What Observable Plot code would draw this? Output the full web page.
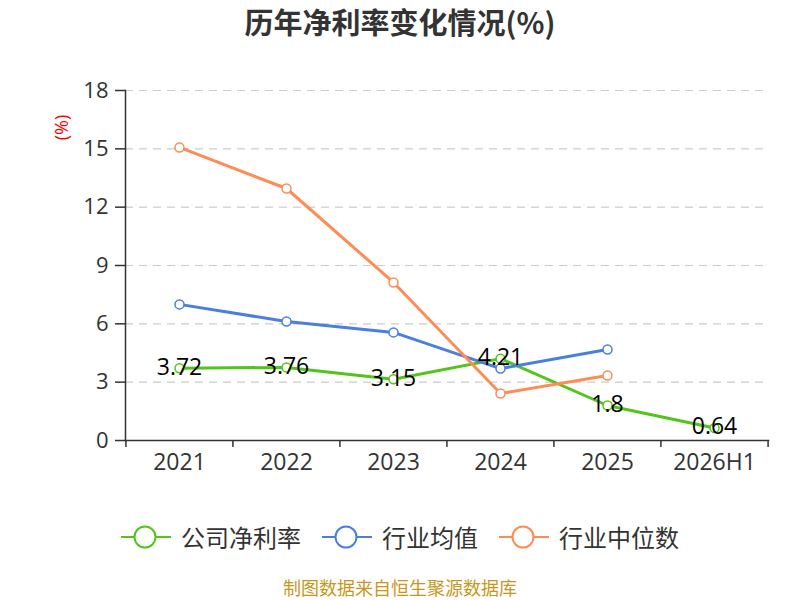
<!DOCTYPE html>
<html>
<head>
<meta charset="utf-8">
<script src="https://cdn.jsdelivr.net/npm/d3@7"></script>
<script src="https://cdn.jsdelivr.net/npm/@observablehq/plot@0.6"></script>
<style>
  html, body { margin: 0; padding: 0; background: #fff; }
  body { width: 800px; height: 600px; position: relative; overflow: hidden;
         font-family: "Open Sans", "Noto Sans CJK SC", sans-serif; }
  #title { position: absolute; top: 0px; left: 0; width: 800px; text-align: center;
           font-size: 29px; font-weight: bold; color: #333;
           font-family: "Noto Sans CJK SC", sans-serif; }
  #chart { position: absolute; top: 50px; left: 0; }
  #legend { position: absolute; top: 522px; left: 0; width: 800px; height: 30px; display: flex;
            justify-content: center; align-items: center; font-size: 24px; line-height: 30px; color: #333;
            font-family: "Noto Sans CJK SC", sans-serif; }
  .item { display: flex; align-items: center; margin: 0 10.5px; }
  .item svg { margin-right: 10px; }
  #caption { position: absolute; top: 577px; left: 0; width: 800px; text-align: center;
             font-size: 18px; line-height: 20px; color: #c8961e; font-family: "Noto Sans CJK SC", sans-serif; }
</style>
</head>
<body>
<div id="title">历年净利率变化情况(%)</div>
<div id="chart"></div>
<div id="legend"></div>
<div id="caption">制图数据来自恒生聚源数据库</div>
<script>
const categories = ["2021", "2022", "2023", "2024", "2025", "2026H1"];
const seriesNames = ["公司净利率", "行业均值", "行业中位数"];
const seriesColors = ["#52c41a", "#4a7fe0", "#ff8c55"];
const companyValues = [3.72, 3.76, 3.15, 4.21, 1.8, 0.64];
const industryMean = [7.0, 6.12, 5.56, 3.70, 4.68];
const industryMedian = [15.07, 12.96, 8.13, 2.42, 3.34];
const yTicks = [0, 3, 6, 9, 12, 15, 18];

const company = companyValues.map((v, i) => ({x: categories[i], y: v}));
const mean = industryMean.map((v, i) => ({x: categories[i], y: v}));
const median = industryMedian.map((v, i) => ({x: categories[i], y: v}));

const W = 800, H = 440, ML = 125, MR = 32, MT = 40, MB = 50;
const step = (W - ML - MR) / categories.length;

const fontFam = "'Open Sans', 'Noto Sans CJK SC', sans-serif";

const plot = Plot.plot({
  width: W, height: H,
  marginLeft: ML, marginRight: MR, marginTop: MT, marginBottom: MB,
  style: {fontFamily: fontFam, fontSize: "22px", color: "#333", background: "#fff"},
  x: {type: "point", domain: categories, padding: 0.5, label: null},
  y: {domain: [0, 18], ticks: yTicks, label: null},
  marks: [
    Plot.ruleY(yTicks.filter(d => d > 0), {stroke: "#ccc", strokeWidth: 1.2, strokeDasharray: "8,6"}),
    Plot.axisY({ticks: yTicks, tickSize: 10, tickPadding: 7, stroke: "#333", strokeWidth: 1.5, fill: "#333", fontSize: 22, label: null}),
    Plot.axisX({tickSize: 0, tickPadding: 13, fill: "#333", fontSize: 23, label: null}),
    Plot.frame({anchor: "left", stroke: "#333", strokeWidth: 1.5}),
    Plot.frame({anchor: "bottom", stroke: "#333", strokeWidth: 1.5}),
    Plot.ruleX(categories, {x: d => d, y1: 0, y2: 0, dx: -step / 2, insetBottom: -7, stroke: "#333", strokeWidth: 1.5}),
    Plot.ruleX(categories.slice(-1), {x: d => d, y1: 0, y2: 0, dx: step / 2, insetBottom: -7, stroke: "#333", strokeWidth: 1.5}),
    Plot.text(["(%)"], {frameAnchor: "top-left", dx: -63, dy: 37, rotate: -90, textAnchor: "middle", lineAnchor: "middle", fill: "red", fontSize: 18, text: d => d}),
    Plot.line(company, {x: "x", y: "y", stroke: seriesColors[0], strokeWidth: 3}),
    Plot.line(mean, {x: "x", y: "y", stroke: seriesColors[1], strokeWidth: 3}),
    Plot.line(median, {x: "x", y: "y", stroke: seriesColors[2], strokeWidth: 3}),
    Plot.dot(company, {x: "x", y: "y", r: 4.5, fill: "#fff", stroke: seriesColors[0], strokeWidth: 1.5}),
    Plot.dot(mean, {x: "x", y: "y", r: 4.5, fill: "#fff", stroke: seriesColors[1], strokeWidth: 1.5}),
    Plot.dot(median, {x: "x", y: "y", r: 4.5, fill: "#fff", stroke: seriesColors[2], strokeWidth: 1.5}),
    Plot.text(company, {x: "x", y: "y", text: d => String(d.y), fill: "#000", fontSize: 23, dy: -1})
  ]
});
document.getElementById("chart").appendChild(plot);

const legend = document.getElementById("legend");
seriesNames.forEach((name, i) => {
  const item = document.createElement("div");
  item.className = "item";
  item.innerHTML = `<svg width="50" height="26"><line x1="0" y1="13" x2="50" y2="13" stroke="${seriesColors[i]}" stroke-width="2"/><circle cx="24" cy="13" r="10.5" fill="#fff" stroke="${seriesColors[i]}" stroke-width="2"/></svg><span>${name}</span>`;
  legend.appendChild(item);
});
</script>
</body>
</html>
